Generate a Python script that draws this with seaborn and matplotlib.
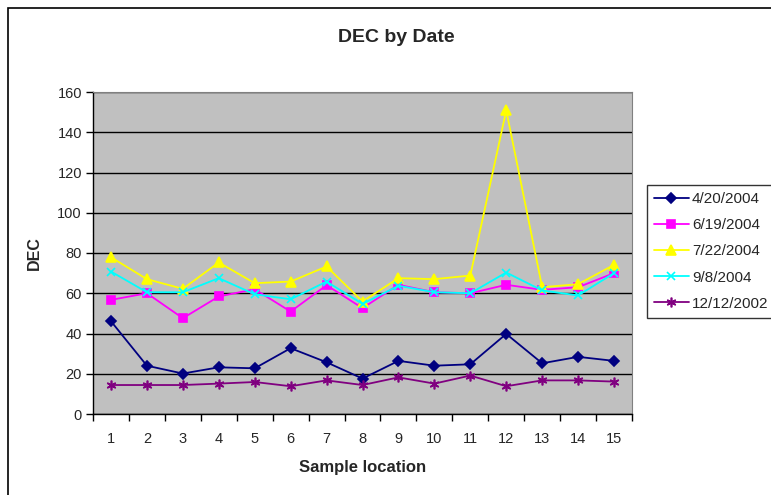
import numpy as np
import pandas as pd
import matplotlib
matplotlib.use("Agg")
import matplotlib.pyplot as plt
from matplotlib.patches import Rectangle
import seaborn as sns

# -------- data --------
locations = list(range(1, 16))
dates = ["4/20/2004", "6/19/2004", "7/22/2004", "9/8/2004", "12/12/2002"]
dec_0420 = [46.1, 24.0, 20.1, 23.2, 22.7, 32.7, 25.7, 17.6, 26.4, 24.0, 24.7, 39.8, 25.2, 28.4, 26.4]
dec_0619 = [56.7, 60.0, 47.6, 58.4, 62.0, 50.9, 64.0, 52.6, 64.2, 60.5, 60.0, 64.2, 61.7, 63.0, 70.0]
dec_0722 = [77.9, 67.0, 62.2, 75.3, 65.0, 65.8, 73.3, 55.9, 67.5, 67.0, 68.8, 150.9, 63.0, 64.5, 74.1]
dec_0908 = [70.8, 60.5, 60.5, 67.5, 59.5, 57.0, 65.8, 54.7, 63.7, 60.5, 60.0, 70.3, 61.4, 58.9, 70.0]
dec_1212 = [14.4, 14.4, 14.4, 15.1, 15.9, 13.8, 16.7, 14.4, 18.2, 15.1, 19.1, 13.8, 16.7, 16.7, 16.1]

series = [dec_0420, dec_0619, dec_0722, dec_0908, dec_1212]
colors = ["#000080", "#FF00FF", "#FFFF00", "#00FFFF", "#800080"]
markers = ["D", "s", "^", "x", (6, 2, 0)]
sizes = [5.5, 5.5, 7, 6, 7]

# -------- plot --------
sns.set_style("white")
plt.rcParams["font.family"] = ["Liberation Sans", "DejaVu Sans"]

fig = plt.figure(figsize=(7.71, 4.95), dpi=100)
ax = fig.add_axes([93 / 771, 81 / 495, 539 / 771, 322 / 495])
ax.set_facecolor("#C0C0C0")

for vals, date, c, m, s in zip(series, dates, colors, markers, sizes):
    sns.lineplot(x=locations, y=vals, color=c, marker=m, markersize=s,
                 markerfacecolor=c, markeredgecolor=c, markeredgewidth=1.2,
                 linewidth=1.3, label=date, ax=ax, zorder=3)

ax.set_xlim(0.5, 15.5)
ax.set_ylim(0, 160)
ax.set_yticks(range(0, 161, 20))
ax.yaxis.grid(True, color="black", linewidth=1)
ax.set_axisbelow(True)
ax.set_xticks(locations)
ax.set_xticks(np.arange(0.5, 15.6, 1), minor=True)
ax.tick_params(axis="x", which="major", length=0, pad=13, labelsize=10.5)
ax.tick_params(axis="x", which="minor", length=5, width=1, color="black", direction="out")
ax.tick_params(axis="y", which="major", length=5, width=1, color="black", direction="out", labelsize=10.5, pad=3)
ax.tick_params(axis="both", which="both", bottom=True, left=True)

for side in ["top", "right"]:
    ax.spines[side].set_color("#808080")
for side in ["left", "bottom"]:
    ax.spines[side].set_color("black")
    ax.spines[side].set_linewidth(1)

ax.set_xlabel("Sample location", fontsize=12, fontweight="bold", labelpad=10)
ax.set_ylabel("DEC", fontsize=11.5, fontweight="bold", labelpad=11)
fig.text(396 / 771, 1 - 37 / 495, "DEC by Date", ha="center", va="center",
         fontsize=14, fontweight="bold")

# legend on the right edge
handles, labels = ax.get_legend_handles_labels()
leg = ax.legend(handles, labels, loc="upper left", bbox_to_anchor=(647 / 771, 1 - 185 / 495),
                bbox_transform=fig.transFigure, frameon=True, fancybox=False,
                fontsize=11, handlelength=2.3, handletextpad=0.2, labelspacing=0.8,
                borderpad=0.45, borderaxespad=0, markerscale=1.0)
leg.get_frame().set_edgecolor("black")
leg.get_frame().set_linewidth(1)

# chart area border
fig.patches.append(Rectangle((8 / 771, -0.1), 1.0, 1 - 8 / 495 + 0.1, transform=fig.transFigure,
                             fill=False, edgecolor="black", linewidth=1.2))

fig.savefig("out.png", dpi=100)
